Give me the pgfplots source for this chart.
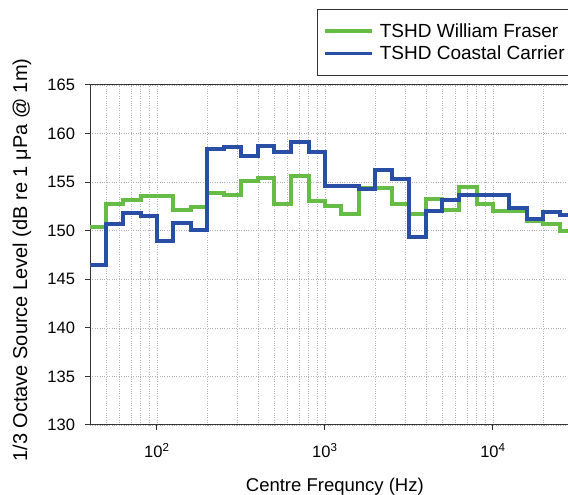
\documentclass[border=0pt]{standalone}
\usepackage{fontspec}
\setmainfont{Liberation Sans}
\usepackage{pgfplots}
\pgfplotsset{compat=1.18}
\definecolor{cgreen}{RGB}{102,188,68}
\definecolor{cblue}{RGB}{40,78,165}
\begin{document}
\begin{tikzpicture}
\path[use as bounding box] (0,0) rectangle (568pt,495pt);
\begin{axis}[
  at={(90pt,70pt)}, anchor=south west,
  scale only axis, width=481pt, height=340pt,
  xmode=log, xmin=40, xmax=29170,
  ymin=130, ymax=165, ytick={130,135,...,165},
  xtick={100,1000,10000},
  xticklabels={10\textsuperscript{2},10\textsuperscript{3},10\textsuperscript{4}},
  minor xtick={40,50,60,70,80,90,200,300,400,500,600,700,800,900,2000,3000,4000,5000,6000,7000,8000,9000,20000},
  /pgf/number format/assume math mode=true,
  tick align=outside, major tick length=5pt, minor tick length=0pt,
  xtick pos=bottom, ytick pos=left,
  grid=both,
  major grid style={dotted, black!30, line width=0.6pt},
  minor grid style={dotted, black!30, line width=0.6pt},
  axis line style={black!80, line width=1pt},
  every tick/.style={black!80, line width=1pt},
  tick label style={font=\fontsize{16.5}{18}\selectfont},
  xticklabel style={yshift=-10pt},
  yticklabel style={xshift=-6.5pt},
  xlabel={Centre Frequncy (Hz)},
  ylabel={1/3 Octave Source Level (dB re 1 μPa @ 1m)},
  xlabel style={at={(axis description cs:0.509,-0.1825)}, anchor=center, font=\fontsize{18.5}{20}\selectfont},
  ylabel style={at={(axis description cs:-0.1414,0.485)}, anchor=center, font=\fontsize{20}{22}\selectfont},
  legend style={at={(axis description cs:0.4719,1.2235)}, anchor=north west,
    draw=black!80, line width=0.8pt, fill=white, inner xsep=6pt, inner ysep=12pt,
    row sep=3pt, column sep=4pt,
    font=\fontsize{19}{21}\selectfont, nodes={inner sep=2pt}},
  legend cell align=left,
  legend image code/.code={\draw[#1, line width=3.5pt] (0pt,0pt) -- (47pt,0pt);},
]
\addplot[cgreen, line width=4pt, const plot mark left] coordinates {
(40,150.4) (50,152.75) (63,153.2) (80,153.55) (100,153.55) (125,152.1) (160,152.4)
(200,153.85) (250,153.7) (315,155.15) (400,155.4) (500,152.75) (630,155.6) (800,153.1)
(1000,152.55) (1250,151.75) (1600,154.4) (2000,154.4) (2500,152.75) (3150,151.75)
(4000,153.25) (5000,152.1) (6300,154.45) (8000,152.8) (10000,152.0) (12500,152.0)
(16000,150.95) (20000,150.7) (25000,150.0) (29170,150.0)};
\addlegendentry{\makebox[215pt][l]{TSHD William Fraser}}
\addplot[cblue, line width=4pt, const plot mark left] coordinates {
(40,146.5) (50,150.7) (63,151.8) (80,151.55) (100,148.9) (125,150.75) (160,150.1)
(200,158.45) (250,158.6) (315,157.7) (400,158.75) (500,158.1) (630,159.1) (800,158.1)
(1000,154.6) (1250,154.65) (1600,154.25) (2000,156.3) (2500,155.3) (3150,149.4)
(4000,152.0) (5000,153.2) (6300,153.65) (8000,153.65) (10000,153.65) (12500,152.3)
(16000,151.25) (20000,151.9) (25000,151.65) (29170,151.65)};
\addlegendentry{TSHD Coastal Carrier}
\end{axis}
\path[use as bounding box] (0,0) rectangle (568pt,495pt);
\end{tikzpicture}
\end{document}
